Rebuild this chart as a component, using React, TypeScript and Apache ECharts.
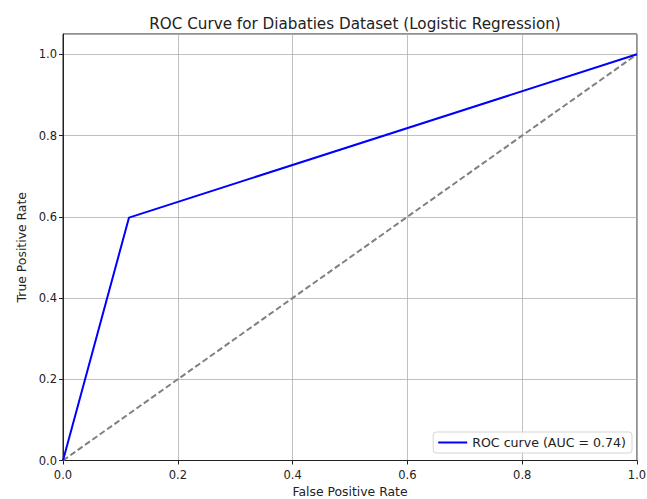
import React, { useEffect, useRef } from "react";
import * as echarts from "echarts";

const rocFpr = [0, 0.115, 1];
const rocTpr = [0, 0.598, 1];
const diagX = [0, 1];
const diagY = [0, 1];
const tickValues = [0, 0.2, 0.4, 0.6, 0.8, 1.0];
const titleText = "ROC Curve for Diabaties Dataset (Logistic Regression)";
const legendLabel = "ROC curve (AUC = 0.74)";

const FONT = "DejaVu Sans";

export default function App() {
  const ref = useRef<HTMLDivElement>(null);
  useEffect(() => {
    if (!ref.current) return;
    const chart = echarts.init(ref.current, undefined, { renderer: "svg" });
    const fmt = (v: number) => (tickValues.some((t) => Math.abs(t - v) < 1e-9) ? v.toFixed(1) : "");
    chart.setOption({
      animation: false,
      backgroundColor: "#fff",
      textStyle: { fontFamily: FONT },
      title: {
        text: titleText,
        left: 350,
        textAlign: "center",
        top: 11,
        textStyle: { fontFamily: FONT, fontSize: 15.2, fontWeight: "normal", color: "#222" },
      },
      grid: {
        left: 63,
        right: 10,
        top: 34,
        bottom: 38.5,
        outerBoundsMode: "none",
        containLabel: false,
        show: true,
        borderColor: "#222",
        borderWidth: 1,
        backgroundColor: "transparent",
      },
      legend: {
        data: [legendLabel],
        right: 15,
        bottom: 46,
        orient: "horizontal",
        icon: "rect",
        itemWidth: 29,
        itemHeight: 2,
        itemGap: 8,
        padding: [4, 6, 4, 5],
        borderColor: "#d5d5d5",
        borderWidth: 1,
        borderRadius: 3,
        backgroundColor: "rgba(255,255,255,0.85)",
        textStyle: { fontFamily: FONT, fontSize: 12.6, color: "#222" },
      },
      xAxis: {
        type: "value",
        min: 0,
        max: 1,
        interval: 0.2,
        name: "False Positive Rate",
        nameLocation: "middle",
        nameGap: 24,
        nameTextStyle: { fontFamily: FONT, fontSize: 12.4, color: "#222" },
        axisLine: { show: true, onZero: false, lineStyle: { color: "#222", width: 1 } },
        axisTick: { show: true, inside: false, length: 4, lineStyle: { color: "#222" } },
        axisLabel: { fontFamily: FONT, fontSize: 11.5, color: "#222", margin: 8, formatter: fmt },
        splitLine: { show: true, lineStyle: { color: "#b0b0b0", width: 0.8 } },
      },
      yAxis: {
        type: "value",
        min: 0,
        max: 1.05,
        interval: 0.2,
        name: "True Positive Rate",
        nameLocation: "middle",
        nameGap: 34,
        nameTextStyle: { fontFamily: FONT, fontSize: 12.4, color: "#222" },
        axisLine: { show: true, onZero: false, lineStyle: { color: "#222", width: 1 } },
        axisTick: {
          show: true,
          inside: false,
          length: 4,
          lineStyle: { color: "#222" },
          interval: (_i: number, v: any) => tickValues.some((t) => Math.abs(t - Number(v)) < 1e-9),
        },
        axisLabel: { fontFamily: FONT, fontSize: 11.5, color: "#222", margin: 6, formatter: fmt, showMaxLabel: false },
        splitLine: { show: true, lineStyle: { color: "#b0b0b0", width: 0.8 } },
      },
      series: [
        {
          name: legendLabel,
          type: "line",
          data: rocFpr.map((x, i) => [x, rocTpr[i]]),
          showSymbol: false,
          symbol: "none",
          lineStyle: { color: "#0000ff", width: 2 },
          itemStyle: { color: "#0000ff" },
          z: 3,
        },
        {
          name: "diag",
          type: "line",
          data: diagX.map((x, i) => [x, diagY[i]]),
          showSymbol: false,
          symbol: "none",
          lineStyle: { color: "#808080", width: 2, type: [6, 3] },
          itemStyle: { color: "#808080" },
          z: 2,
        },
      ],
    });
    return () => chart.dispose();
  }, []);
  return <div ref={ref} style={{ width: 647, height: 499, position: "absolute", left: 0, top: 0 }} />;
}
